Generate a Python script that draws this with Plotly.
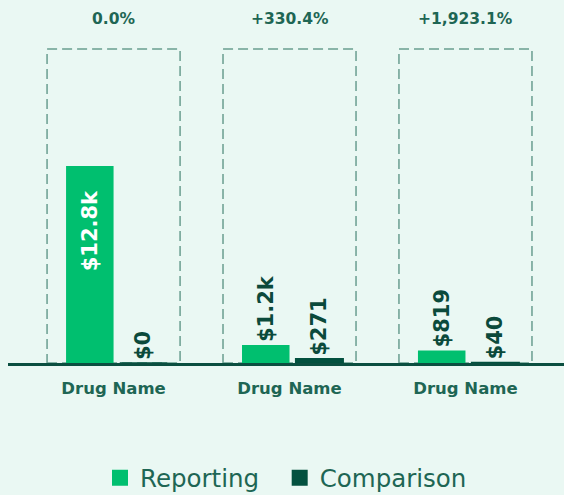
import plotly.graph_objects as go

groups = ["Drug Name", "Drug Name", "Drug Name"]
reporting = [12800, 1166, 819]
comparison = [0, 271, 40]
reporting_labels = ["$12.8k", "$1.2k", "$819"]
comparison_labels = ["$0", "$271", "$40"]
changes = ["0.0%", "+330.4%", "+1,923.1%"]

BG = "#EAF8F3"
GREEN = "#00BF6F"
DARK = "#03513F"
LABEL = "#0B4A3B"
TEXT = "#1E6654"
FONT = "DejaVu Sans"

x = list(range(len(groups)))
rep_pos = ["inside", "outside", "outside"]
# pad inside labels a little away from the bar top
rep_text = [t + "\u00a0\u00a0\u00a0" if p == "inside" else t for t, p in zip(reporting_labels, rep_pos)]

fig = go.Figure()
fig.add_trace(go.Bar(
    x=x, y=reporting, name="Reporting", marker=dict(color=GREEN, line=dict(width=0)),
    width=0.27, offset=-0.27,
    text=rep_text, textangle=-90,
    textposition=rep_pos, insidetextanchor="end",
    insidetextfont=dict(color="white", size=21, family=FONT, weight="bold"),
    outsidetextfont=dict(color=LABEL, size=21, family=FONT, weight="bold"),
    constraintext="none", cliponaxis=False, showlegend=False, hoverinfo="skip",
))
fig.add_trace(go.Bar(
    x=x, y=comparison, name="Comparison", marker=dict(color=DARK, line=dict(width=1.5, color=DARK)),
    width=0.27, offset=0.035,
    text=comparison_labels, textangle=-90, textposition="outside",
    outsidetextfont=dict(color=LABEL, size=21, family=FONT, weight="bold"),
    constraintext="none", cliponaxis=False, showlegend=False, hoverinfo="skip",
))
# legend entries
for nm, col in [("Reporting\u00a0\u00a0", GREEN), ("Comparison", DARK)]:
    fig.add_trace(go.Scatter(x=[None], y=[None], mode="markers", name=nm,
                             marker=dict(symbol="square", size=20, color=col)))

for i in x:
    fig.add_shape(type="rect", xref="x", yref="paper", x0=i - 0.378, x1=i + 0.378,
                  y0=0, y1=1, line=dict(color="#6A9E90", width=1.5, dash="10px,5px"),
                  layer="below")
    fig.add_annotation(x=i, y=1, xref="x", yref="paper", text=changes[i], showarrow=False,
                       yanchor="middle", yshift=30,
                       font=dict(size=15.5, color=TEXT, family=FONT, weight="bold"))

fig.update_layout(
    width=564, height=495,
    margin=dict(l=8, r=0, t=49, b=132, autoexpand=False),
    paper_bgcolor=BG, plot_bgcolor=BG,
    barmode="group",
    xaxis=dict(range=[-0.6, 2.56], tickvals=x, ticktext=groups, showgrid=False, zeroline=False,
               showline=True, linecolor="#0B4F40", linewidth=3,
               ticks="outside", ticklen=8, tickcolor="rgba(0,0,0,0)",
               tickfont=dict(size=16.5, color=TEXT, family=FONT, weight="bold")),
    yaxis=dict(range=[0, 20400], visible=False),
    legend=dict(orientation="h", x=0.5, xanchor="center", y=-0.366, yanchor="middle",
                font=dict(size=24.5, color=TEXT, family=FONT), itemsizing="trace",
                bgcolor="rgba(0,0,0,0)"),
    font=dict(family=FONT),
)

fig.write_html("out.html", post_script="document.body.style.margin='0';",
               config={"displayModeBar": False})
